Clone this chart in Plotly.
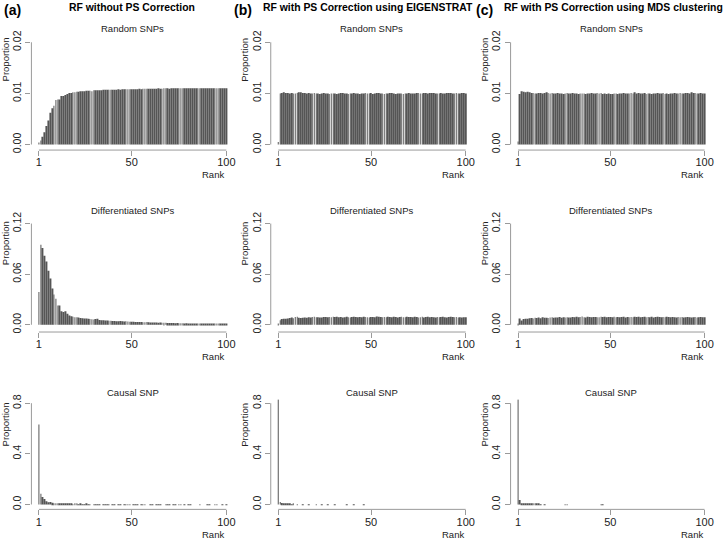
import plotly.graph_objects as go
from plotly.subplots import make_subplots

ranks = list(range(1, 101))

# Random SNPs
rand_none = [
    0.0004, 0.0008, 0.0015, 0.0024, 0.0036, 0.0047, 0.0062, 0.0071, 0.0076, 0.0087,
    0.0088, 0.0088, 0.0095, 0.0095, 0.0097, 0.0099, 0.0101, 0.0101, 0.0102, 0.0102,
    0.0103, 0.0103, 0.0104, 0.0104, 0.0104, 0.0105, 0.0105, 0.0105, 0.0104, 0.0106,
    0.0106, 0.0106, 0.0106, 0.0106, 0.0107, 0.0107, 0.0107, 0.0107, 0.0107, 0.0107,
    0.0107, 0.0107, 0.0108, 0.0107, 0.0108, 0.0108, 0.0108, 0.0108, 0.0108, 0.0108,
    0.0108, 0.0108, 0.0108, 0.0109, 0.0108, 0.0109, 0.0109, 0.0109, 0.0109, 0.0109,
    0.0109, 0.0109, 0.0109, 0.0110, 0.0109, 0.0109, 0.0110, 0.0110, 0.0110, 0.0109,
    0.0110, 0.0110, 0.0110, 0.0110, 0.0110, 0.0110, 0.0110, 0.0110, 0.0110, 0.0110,
    0.0110, 0.0110, 0.0110, 0.0110, 0.0110, 0.0110, 0.0110, 0.0110, 0.0110, 0.0110,
    0.0110, 0.0110, 0.0110, 0.0110, 0.0110, 0.0110, 0.0110, 0.0110, 0.0110, 0.0110,
]
rand_eigen = [
    0.0005, 0.0100, 0.0101, 0.0102, 0.0101, 0.0101, 0.0100, 0.0101, 0.0100, 0.0100,
    0.0101, 0.0102, 0.0102, 0.0101, 0.0101, 0.0100, 0.0101, 0.0100, 0.0100, 0.0101,
    0.0100, 0.0100, 0.0099, 0.0100, 0.0101, 0.0100, 0.0100, 0.0099, 0.0100, 0.0100,
    0.0100, 0.0099, 0.0100, 0.0101, 0.0101, 0.0100, 0.0100, 0.0099, 0.0100, 0.0100,
    0.0101, 0.0100, 0.0100, 0.0099, 0.0100, 0.0100, 0.0101, 0.0100, 0.0100, 0.0101,
    0.0099, 0.0100, 0.0101, 0.0101, 0.0100, 0.0100, 0.0099, 0.0100, 0.0100, 0.0101,
    0.0101, 0.0100, 0.0099, 0.0100, 0.0100, 0.0100, 0.0099, 0.0100, 0.0100, 0.0101,
    0.0100, 0.0100, 0.0100, 0.0101, 0.0101, 0.0100, 0.0100, 0.0101, 0.0101, 0.0100,
    0.0101, 0.0101, 0.0101, 0.0100, 0.0100, 0.0100, 0.0101, 0.0100, 0.0100, 0.0101,
    0.0101, 0.0101, 0.0100, 0.0100, 0.0101, 0.0100, 0.0100, 0.0101, 0.0101, 0.0100,
]
rand_mds = [
    0.0006, 0.0099, 0.0104, 0.0103, 0.0102, 0.0103, 0.0102, 0.0101, 0.0101, 0.0100,
    0.0100, 0.0101, 0.0101, 0.0100, 0.0101, 0.0102, 0.0101, 0.0100, 0.0101, 0.0100,
    0.0100, 0.0101, 0.0100, 0.0100, 0.0099, 0.0100, 0.0101, 0.0100, 0.0100, 0.0101,
    0.0100, 0.0100, 0.0099, 0.0100, 0.0100, 0.0100, 0.0099, 0.0100, 0.0100, 0.0101,
    0.0100, 0.0100, 0.0101, 0.0100, 0.0101, 0.0099, 0.0100, 0.0099, 0.0100, 0.0099,
    0.0099, 0.0100, 0.0100, 0.0099, 0.0100, 0.0100, 0.0101, 0.0100, 0.0100, 0.0100,
    0.0101, 0.0100, 0.0102, 0.0100, 0.0101, 0.0100, 0.0100, 0.0101, 0.0099, 0.0100,
    0.0100, 0.0099, 0.0100, 0.0100, 0.0101, 0.0100, 0.0100, 0.0101, 0.0099, 0.0100,
    0.0099, 0.0100, 0.0100, 0.0101, 0.0100, 0.0100, 0.0101, 0.0100, 0.0100, 0.0101,
    0.0101, 0.0100, 0.0102, 0.0101, 0.0101, 0.0100, 0.0100, 0.0101, 0.0100, 0.0100,
]

# Differentiated SNPs
diff_none = [
    0.0390, 0.0950, 0.0910, 0.0820, 0.0750, 0.0640, 0.0550, 0.0430, 0.0360, 0.0310,
    0.0230, 0.0230, 0.0160, 0.0150, 0.0160, 0.0130, 0.0110, 0.0100, 0.0095, 0.0090,
    0.0088, 0.0085, 0.0080, 0.0078, 0.0075, 0.0073, 0.0070, 0.0068, 0.0065, 0.0063,
    0.0068, 0.0072, 0.0058, 0.0055, 0.0053, 0.0052, 0.0050, 0.0048, 0.0047, 0.0045,
    0.0044, 0.0043, 0.0042, 0.0045, 0.0041, 0.0040, 0.0042, 0.0038, 0.0037, 0.0036,
    0.0035, 0.0034, 0.0033, 0.0034, 0.0032, 0.0031, 0.0030, 0.0033, 0.0029, 0.0028,
    0.0027, 0.0028, 0.0026, 0.0025, 0.0027, 0.0024, 0.0023, 0.0025, 0.0022, 0.0021,
    0.0022, 0.0020, 0.0019, 0.0021, 0.0018, 0.0019, 0.0017, 0.0016, 0.0018, 0.0016,
    0.0015, 0.0016, 0.0014, 0.0015, 0.0013, 0.0014, 0.0013, 0.0012, 0.0013, 0.0011,
    0.0012, 0.0011, 0.0010, 0.0011, 0.0010, 0.0009, 0.0010, 0.0009, 0.0008, 0.0008,
]
diff_eigen = [
    0.0005, 0.0055, 0.0068, 0.0072, 0.0070, 0.0075, 0.0080, 0.0085, 0.0078, 0.0092,
    0.0096, 0.0082, 0.0080, 0.0083, 0.0086, 0.0084, 0.0090, 0.0085, 0.0092, 0.0095,
    0.0088, 0.0090, 0.0086, 0.0087, 0.0091, 0.0093, 0.0089, 0.0092, 0.0090, 0.0094,
    0.0091, 0.0096, 0.0088, 0.0093, 0.0087, 0.0089, 0.0094, 0.0090, 0.0086, 0.0092,
    0.0095, 0.0093, 0.0089, 0.0091, 0.0088, 0.0094, 0.0092, 0.0090, 0.0087, 0.0093,
    0.0091, 0.0089, 0.0099, 0.0094, 0.0092, 0.0090, 0.0093, 0.0089, 0.0094, 0.0091,
    0.0088, 0.0095, 0.0092, 0.0086, 0.0093, 0.0096, 0.0090, 0.0088, 0.0094, 0.0091,
    0.0093, 0.0089, 0.0095, 0.0092, 0.0087, 0.0090, 0.0096, 0.0085, 0.0091, 0.0094,
    0.0088, 0.0093, 0.0090, 0.0087, 0.0092, 0.0089, 0.0091, 0.0094, 0.0090, 0.0086,
    0.0093, 0.0095, 0.0091, 0.0088, 0.0092, 0.0087, 0.0089, 0.0085, 0.0090, 0.0088,
]
diff_mds = [
    0.0004, 0.0075, 0.0052, 0.0068, 0.0072, 0.0070, 0.0076, 0.0079, 0.0074, 0.0082,
    0.0080, 0.0085, 0.0078, 0.0088, 0.0084, 0.0082, 0.0079, 0.0086, 0.0090, 0.0083,
    0.0087, 0.0085, 0.0092, 0.0084, 0.0088, 0.0086, 0.0090, 0.0087, 0.0085, 0.0093,
    0.0089, 0.0095, 0.0088, 0.0091, 0.0098, 0.0090, 0.0087, 0.0094, 0.0092, 0.0089,
    0.0091, 0.0093, 0.0090, 0.0088, 0.0094, 0.0092, 0.0095, 0.0089, 0.0093, 0.0091,
    0.0088, 0.0094, 0.0090, 0.0092, 0.0089, 0.0091, 0.0095, 0.0087, 0.0093, 0.0090,
    0.0092, 0.0088, 0.0094, 0.0091, 0.0096, 0.0089, 0.0093, 0.0095, 0.0088, 0.0092,
    0.0090, 0.0094, 0.0087, 0.0091, 0.0096, 0.0092, 0.0089, 0.0093, 0.0090, 0.0094,
    0.0091, 0.0088, 0.0092, 0.0090, 0.0087, 0.0093, 0.0089, 0.0091, 0.0086, 0.0090,
    0.0092, 0.0088, 0.0085, 0.0090, 0.0093, 0.0087, 0.0089, 0.0091, 0.0088, 0.0090,
]

# Causal SNP
causal_none = [
    0.632, 0.085, 0.059, 0.044, 0.026, 0.018, 0.020, 0.013, 0.010, 0.007,
    0.006, 0.005, 0.004, 0.004, 0.003, 0.004, 0.003, 0.003, 0.002, 0.003,
    0.003, 0.002, 0.003, 0.002, 0.002, 0.003, 0.002, 0.002, 0.000, 0.002,
    0.002, 0.002, 0.002, 0.000, 0.002, 0.002, 0.002, 0.002, 0.000, 0.002,
    0.002, 0.000, 0.002, 0.002, 0.000, 0.002, 0.002, 0.002, 0.002, 0.000,
    0.002, 0.002, 0.002, 0.000, 0.002, 0.002, 0.002, 0.000, 0.000, 0.002,
    0.002, 0.000, 0.002, 0.002, 0.002, 0.000, 0.000, 0.002, 0.002, 0.002,
    0.000, 0.002, 0.002, 0.000, 0.002, 0.002, 0.000, 0.002, 0.000, 0.002,
    0.002, 0.000, 0.000, 0.000, 0.000, 0.002, 0.000, 0.000, 0.000, 0.002,
    0.002, 0.000, 0.000, 0.002, 0.002, 0.000, 0.000, 0.002, 0.000, 0.002,
]
causal_eigen = [
    0.830, 0.020, 0.012, 0.004, 0.003, 0.003, 0.003, 0.002, 0.003, 0.000,
    0.002, 0.000, 0.000, 0.002, 0.000, 0.000, 0.002, 0.000, 0.000, 0.000,
    0.002, 0.000, 0.000, 0.002, 0.000, 0.000, 0.002, 0.000, 0.000, 0.000,
    0.002, 0.000, 0.000, 0.000, 0.000, 0.000, 0.002, 0.000, 0.000, 0.000,
    0.002, 0.000, 0.000, 0.000, 0.000, 0.002, 0.000, 0.000, 0.000, 0.000,
    0.000, 0.000, 0.000, 0.000, 0.000, 0.000, 0.000, 0.000, 0.000, 0.000,
    0.000, 0.000, 0.000, 0.000, 0.000, 0.000, 0.000, 0.000, 0.000, 0.000,
    0.000, 0.000, 0.000, 0.000, 0.000, 0.000, 0.000, 0.000, 0.000, 0.000,
    0.000, 0.000, 0.000, 0.000, 0.000, 0.000, 0.000, 0.000, 0.000, 0.000,
    0.000, 0.000, 0.000, 0.000, 0.000, 0.000, 0.000, 0.000, 0.000, 0.000,
]
causal_mds = [
    0.830, 0.035, 0.004, 0.003, 0.003, 0.003, 0.003, 0.003, 0.003, 0.003,
    0.003, 0.003, 0.002, 0.000, 0.002, 0.000, 0.000, 0.000, 0.000, 0.000,
    0.000, 0.000, 0.000, 0.000, 0.000, 0.002, 0.002, 0.000, 0.000, 0.000,
    0.000, 0.000, 0.000, 0.000, 0.000, 0.000, 0.000, 0.000, 0.000, 0.000,
    0.000, 0.000, 0.000, 0.000, 0.002, 0.002, 0.000, 0.000, 0.000, 0.000,
    0.000, 0.000, 0.000, 0.000, 0.000, 0.000, 0.000, 0.000, 0.000, 0.000,
    0.000, 0.000, 0.000, 0.000, 0.000, 0.000, 0.000, 0.000, 0.000, 0.000,
    0.000, 0.000, 0.000, 0.000, 0.000, 0.000, 0.000, 0.000, 0.000, 0.000,
    0.000, 0.000, 0.000, 0.000, 0.000, 0.000, 0.000, 0.000, 0.000, 0.000,
    0.000, 0.000, 0.000, 0.000, 0.000, 0.000, 0.000, 0.000, 0.000, 0.000,
]

panel_letters = ['(a)', '(b)', '(c)']
panel_titles = ['RF without PS Correction',
                'RF with PS Correction using EIGENSTRAT',
                'RF with PS Correction using MDS clustering']
row_titles = ['Random SNPs', 'Differentiated SNPs', 'Causal SNP']
grid = [
    [rand_none, rand_eigen, rand_mds],
    [diff_none, diff_eigen, diff_mds],
    [causal_none, causal_eigen, causal_mds],
]
y_ticks = [[0, 0.01, 0.02], [0, 0.06, 0.12], [0, 0.4, 0.8]]
y_ticktext = [['0.00', '0.01', '0.02'], ['0.00', '0.06', '0.12'], ['0.0', '0.4', '0.8']]
x_ticks = [1, 50, 100]

W, H = 727, 545
col_px = [(31.5, 234.5), (271.5, 474.5), (512.0, 714.0)]
# top px, bottom px, y range, pixel y of: subplot title, "Proportion" top, "Rank"
row_px = [(30.8, 145.0, [-0.00109, 0.0208], 20.5, 28.0, 170.0),
          (215.9, 330.7, [-0.0086, 0.1248], 207.0, 215.5, 356.0),
          (399.2, 511.7, [-0.0387, 0.832], 392.0, 400.5, 537.0)]

def xp(px):
    return px / W

def yp(py):
    return 1 - py / H

FONT = 'Liberation Sans, Arial, sans-serif'
BAR = '#555555'
AXIS = '#9a9a9a'
TXT = '#222222'

fig = make_subplots(rows=3, cols=3)
annotations = []
shapes = []

for r in range(3):
    top, bot, yr, t_px, p_px, rk_px = row_px[r]
    for c in range(3):
        n = r * 3 + c + 1
        sfx = '' if n == 1 else str(n)
        fig.add_trace(go.Bar(x=ranks, y=grid[r][c], width=0.38,
                             marker=dict(color=BAR, line_width=0),
                             showlegend=False, hoverinfo='x+y'),
                      row=r + 1, col=c + 1)
        x0, x1 = col_px[c]
        fig.layout['xaxis' + sfx].update(
            domain=[xp(x0), xp(x1)], range=[-2.96, 103.96],
            tickvals=x_ticks, ticks='outside', ticklen=5, tickcolor=AXIS,
            ticklabelstandoff=-3,
            tickfont=dict(size=11, color=TXT, family=FONT),
            showgrid=False, zeroline=False, showline=False)
        fig.layout['yaxis' + sfx].update(
            domain=[yp(bot), yp(top)], range=yr,
            tickvals=y_ticks[r], ticktext=y_ticktext[r], tickangle=-90,
            ticks='outside', ticklen=5, tickcolor=AXIS,
            tickfont=dict(size=10.5, color=TXT, family=FONT),
            showgrid=False, zeroline=False, showline=False)
        # R-style axis lines spanning only the tick range
        shapes.append(dict(type='line', xref='x' + sfx, yref='y' + sfx + ' domain',
                           x0=x_ticks[0], x1=x_ticks[-1], y0=0, y1=0,
                           line=dict(color=AXIS, width=1)))
        shapes.append(dict(type='line', xref='x' + sfx + ' domain', yref='y' + sfx,
                           x0=0, x1=0, y0=y_ticks[r][0], y1=y_ticks[r][-1],
                           line=dict(color=AXIS, width=1)))
        annotations.append(dict(text=row_titles[r], xref='x' + sfx, yref='paper',
                                x=50.5, y=yp(t_px), showarrow=False,
                                xanchor='center', yanchor='middle',
                                font=dict(size=9.5, color=TXT, family=FONT)))
        annotations.append(dict(text='Proportion', xref='paper', yref='paper',
                                x=xp(x0 - 26.5), y=yp(p_px), textangle=-90,
                                showarrow=False, xanchor='center', yanchor='top',
                                font=dict(size=9.5, color=TXT, family=FONT)))
        annotations.append(dict(text='Rank', xref='x' + sfx, yref='paper',
                                x=100, y=yp(rk_px), showarrow=False,
                                xanchor='right', yanchor='middle',
                                font=dict(size=9.5, color=TXT, family=FONT)))

letter_x = [2, 233, 475]
title_x = [67, 262, 503]
for c in range(3):
    annotations.append(dict(text='<b>' + panel_letters[c] + '</b>', xref='paper', yref='paper',
                            x=xp(letter_x[c]), y=yp(2), showarrow=False,
                            xanchor='left', yanchor='middle',
                            font=dict(size=14, color='#000000', family=FONT)))
    annotations.append(dict(text='<b>' + panel_titles[c] + '</b>', xref='paper', yref='paper',
                            x=xp(title_x[c]), y=yp(-1), showarrow=False,
                            xanchor='left', yanchor='middle',
                            font=dict(size=10.4, color='#000000', family=FONT)))

fig.update_layout(width=W, height=H, margin=dict(l=0, r=0, t=0, b=0),
                  paper_bgcolor='white', plot_bgcolor='white',
                  annotations=annotations, shapes=shapes,
                  font=dict(family=FONT, color=TXT))

# drop the default page margin so the figure sits at the window's corner
fig.write_html("out.html", config={'displayModeBar': False},
               post_script="document.body.style.margin = '0';")
